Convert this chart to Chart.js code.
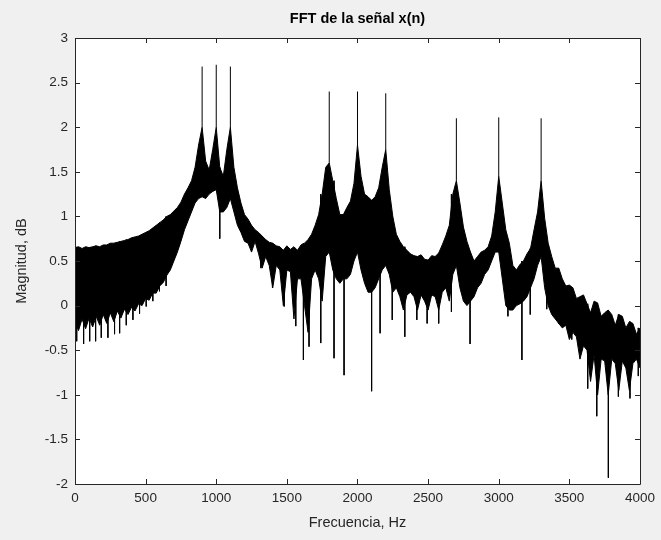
<!DOCTYPE html>
<html>
<head>
<meta charset="utf-8">
<title>FFT de la señal x(n)</title>
<script src="https://cdn.jsdelivr.net/npm/chart.js"></script>
<style>
  html, body { margin: 0; padding: 0; background: #f0f0f0; }
  canvas { display: block; }
</style>
</head>
<body>
<canvas id="grafico" width="661" height="540"></canvas>
<script>
// frecuencias (Hz) donde se leyo la envolvente
const frecuencias = [
    0, 25, 50, 75, 100, 125, 150, 175, 200, 225,
    250, 275, 300, 325, 350, 375, 400, 425, 450, 475,
    500, 525, 550, 575, 600, 625, 650, 675, 700, 725,
    750, 775, 800, 825, 850, 875, 900, 925, 950, 975,
    1000, 1025, 1050, 1075, 1100, 1125, 1150, 1175, 1200, 1225,
    1250, 1275, 1300, 1325, 1350, 1375, 1400, 1425, 1450, 1475,
    1500, 1525, 1550, 1575, 1600, 1625, 1650, 1675, 1700, 1725,
    1750, 1775, 1800, 1825, 1850, 1875, 1900, 1925, 1950, 1975,
    2000, 2025, 2050, 2075, 2100, 2125, 2150, 2175, 2200, 2225,
    2250, 2275, 2300, 2325, 2350, 2375, 2400, 2425, 2450, 2475,
    2500, 2525, 2550, 2575, 2600, 2625, 2650, 2675, 2700, 2725,
    2750, 2775, 2800, 2825, 2850, 2875, 2900, 2925, 2950, 2975,
    3000, 3025, 3050, 3075, 3100, 3125, 3150, 3175, 3200, 3225,
    3250, 3275, 3300, 3325, 3350, 3375, 3400, 3425, 3450, 3475,
    3500, 3525, 3550, 3575, 3600, 3625, 3650, 3675, 3700, 3725,
    3750, 3775, 3800, 3825, 3850, 3875, 3900, 3925, 3950, 3975,
    4000
];

// borde superior de la banda negra (dB)
const envSuperior = [
    0.65, 0.66, 0.64, 0.66, 0.65, 0.66, 0.67, 0.66, 0.68, 0.68,
    0.70, 0.70, 0.71, 0.72, 0.73, 0.74, 0.76, 0.77, 0.78, 0.80,
    0.82, 0.84, 0.87, 0.90, 0.93, 0.96, 1.00, 1.02, 1.06, 1.10,
    1.16, 1.25, 1.32, 1.40, 1.55, 1.80, 2.00, 1.62, 1.52, 1.75,
    2.00, 1.55, 1.45, 1.75, 2.00, 1.55, 1.32, 1.15, 1.02, 0.97,
    0.90, 0.85, 0.82, 0.78, 0.74, 0.71, 0.70, 0.67, 0.66, 0.62,
    0.67, 0.63, 0.66, 0.62, 0.68, 0.70, 0.74, 0.80, 0.90, 1.02,
    1.25, 1.55, 1.60, 1.40, 1.20, 1.02, 1.02, 1.10, 1.17, 1.37,
    1.80, 1.45, 1.25, 1.22, 1.18, 1.22, 1.32, 1.55, 1.75, 1.30,
    1.00, 0.80, 0.72, 0.66, 0.62, 0.58, 0.56, 0.55, 0.57, 0.52,
    0.51, 0.56, 0.55, 0.59, 0.68, 0.78, 0.90, 1.25, 1.40, 1.15,
    0.88, 0.72, 0.60, 0.50, 0.55, 0.60, 0.62, 0.66, 0.78, 1.05,
    1.45, 1.15, 0.85, 0.70, 0.45, 0.40, 0.46, 0.50, 0.58, 0.64,
    0.85, 1.05, 1.40, 0.98, 0.70, 0.55, 0.42, 0.42, 0.30, 0.22,
    0.23, 0.20, 0.08, 0.10, 0.12, 0.02, -0.08, 0.05, 0.03, -0.12,
    -0.08, -0.05, -0.10, -0.22, -0.10, -0.12, -0.25, -0.18, -0.20, -0.32,
    -0.25
];

// borde inferior de la banda negra (dB)
const envInferior = [
    -0.18, -0.28, -0.15, -0.26, -0.14, -0.24, -0.12, -0.22, -0.10, -0.20,
    -0.08, -0.18, -0.06, -0.14, -0.04, -0.10, -0.02, -0.06, 0.02, 0.00,
    0.08, 0.06, 0.14, 0.14, 0.22, 0.26, 0.34, 0.40, 0.50, 0.60,
    0.72, 0.85, 0.95, 1.05, 1.15, 1.20, 1.22, 1.20, 1.25, 1.28,
    1.30, 1.05, 1.05, 1.10, 1.20, 1.05, 0.90, 0.82, 0.72, 0.70,
    0.60, 0.72, 0.58, 0.42, 0.55, 0.45, 0.20, 0.45, 0.40, 0.00,
    0.40, 0.38, -0.15, 0.30, 0.30, 0.00, -0.30, 0.30, 0.40, 0.30,
    0.05, 0.55, 0.60, 0.40, 0.30, 0.25, 0.30, 0.30, 0.35, 0.50,
    0.60, 0.40, 0.25, 0.15, 0.15, 0.20, 0.30, 0.40, 0.45, 0.35,
    0.15, 0.20, 0.10, -0.05, 0.12, 0.15, 0.10, -0.05, 0.12, 0.05,
    -0.05, 0.12, 0.10, -0.05, 0.15, 0.20, 0.05, 0.35, 0.45, 0.20,
    0.05, 0.00, 0.05, 0.10, 0.20, 0.25, 0.35, 0.40, 0.50, 0.60,
    0.60, 0.30, 0.00, -0.05, -0.05, 0.00, 0.02, 0.05, 0.10, 0.20,
    0.30, 0.45, 0.55, 0.20, 0.00, -0.10, -0.15, -0.20, -0.25, -0.22,
    -0.38, -0.30, -0.35, -0.60, -0.45, -0.50, -0.85, -0.55, -1.00, -0.60,
    -0.62, -1.00, -0.60, -0.65, -0.95, -0.62, -0.70, -0.95, -0.65, -0.60,
    -0.70
];

// picos finos (tonos)
const picosFrec = [900, 1000, 1100, 1800, 2000, 2200, 2700, 3000, 3300];
const picosMag  = [2.68, 2.70, 2.68, 2.40, 2.40, 2.38, 2.10, 2.11, 2.10];

// caidas finas hacia abajo
const caidasFrec = [
    12, 61, 104, 146, 186, 233, 280, 316, 363, 410, 457, 504, 551, 598, 645,
    1025, 1316, 1398, 1481, 1563, 1617, 1657, 1740, 1834, 1905,
    2100, 2160, 2246, 2335, 2420, 2493, 2575, 2665, 2797,
    3065, 3164, 3223, 3340, 3423, 3517, 3630, 3694, 3776, 3847, 3929, 3988
];
const caidasMag = [
    -0.40, -0.43, -0.40, -0.40, -0.36, -0.36, -0.32, -0.31, -0.22, -0.16, -0.09, -0.01, 0.05, 0.16, 0.22,
    0.75, 0.42, 0.20, -0.01, -0.23, -0.61, -0.46, -0.42, -0.59, -0.78,
    -0.96, -0.31, -0.16, -0.35, -0.16, -0.20, -0.20, -0.07, -0.43,
    -0.12, -0.61, -0.10, -0.04, -0.20, -0.38, -0.93, -1.24, -1.93, -1.02, -1.04, -0.79
];

const ticksX = [0, 500, 1000, 1500, 2000, 2500, 3000, 3500, 4000];

function indiceCercano(f) {
    let mejor = 0;
    frecuencias.forEach((v, i) => {
        if (Math.abs(v - f) < Math.abs(frecuencias[mejor] - f)) mejor = i;
    });
    return mejor;
}

const puntosSup = frecuencias.map((f, i) => ({ x: f, y: envSuperior[i] }));
const puntosInf = frecuencias.map((f, i) => ({ x: f, y: envInferior[i] }));

// segmentos verticales: pico desde la banda hasta su valor, caidas igual
const puntosEsp = [];
picosFrec.forEach((f, i) => {
    puntosEsp.push({ x: f, y: envSuperior[indiceCercano(f)] });
    puntosEsp.push({ x: f, y: picosMag[i] });
    puntosEsp.push({ x: f, y: null });
});
caidasFrec.forEach((f, i) => {
    puntosEsp.push({ x: f, y: envSuperior[indiceCercano(f)] });
    puntosEsp.push({ x: f, y: caidasMag[i] });
    puntosEsp.push({ x: f, y: null });
});

const colorEjes = "#262626";

// fondo gris, area blanca, caja y marcas hacia dentro (estilo matlab)
const estiloMatlab = {
    id: "estiloMatlab",
    beforeDraw(chart) {
        const { ctx, chartArea: a } = chart;
        ctx.save();
        ctx.fillStyle = "#f0f0f0";
        ctx.fillRect(0, 0, chart.width, chart.height);
        ctx.fillStyle = "#ffffff";
        ctx.fillRect(a.left, a.top, a.right - a.left, a.bottom - a.top);
        ctx.restore();
    },
    afterDraw(chart) {
        const { ctx, chartArea: a } = chart;
        const sx = chart.scales.x, sy = chart.scales.y;
        const L = 5;
        ctx.save();
        ctx.strokeStyle = colorEjes;
        ctx.lineWidth = 1;
        ctx.beginPath();
        ctx.rect(Math.round(a.left) + 0.5, Math.round(a.top) + 0.5,
                 Math.round(a.right - a.left), Math.round(a.bottom - a.top));
        sx.ticks.forEach(t => {
            const px = Math.round(sx.getPixelForValue(t.value)) + 0.5;
            ctx.moveTo(px, a.bottom); ctx.lineTo(px, a.bottom - L);
            ctx.moveTo(px, a.top); ctx.lineTo(px, a.top + L);
        });
        sy.ticks.forEach(t => {
            const py = Math.round(sy.getPixelForValue(t.value)) + 0.5;
            ctx.moveTo(a.left, py); ctx.lineTo(a.left + L, py);
            ctx.moveTo(a.right, py); ctx.lineTo(a.right - L, py);
        });
        ctx.stroke();
        ctx.restore();
    }
};

const fuente = "'Liberation Sans', Arial, Helvetica, sans-serif";

new Chart(document.getElementById("grafico").getContext("2d"), {
    type: "line",
    data: {
        datasets: [
            {
                data: puntosSup,
                borderColor: "#000000",
                backgroundColor: "#000000",
                borderWidth: 1,
                pointRadius: 0,
                tension: 0,
                fill: "+1"
            },
            {
                data: puntosInf,
                borderColor: "#000000",
                borderWidth: 1,
                pointRadius: 0,
                tension: 0,
                fill: false
            },
            {
                data: puntosEsp,
                borderColor: "#000000",
                borderWidth: 1,
                pointRadius: 0,
                spanGaps: false,
                fill: false
            }
        ]
    },
    options: {
        responsive: false,
        animation: false,
        events: [],
        layout: { padding: { left: 0, right: 19, top: 0, bottom: 0 } },
        plugins: {
            legend: { display: false },
            tooltip: { enabled: false },
            title: {
                display: true,
                text: "FFT de la señal x(n)",
                fullSize: false,
                color: "#000000",
                font: { family: fuente, size: 14.5, weight: "bold" },
                padding: { top: 10, bottom: 10.6 }
            }
        },
        scales: {
            x: {
                type: "linear",
                min: 0,
                max: 4000,
                afterBuildTicks: s => { s.ticks = ticksX.map(v => ({ value: v })); },
                afterFit: s => { s.height = 56; },
                grid: { display: false, drawTicks: false },
                border: { display: false },
                ticks: {
                    color: colorEjes,
                    padding: 6,
                    maxRotation: 0,
                    font: { family: fuente, size: 13.5 },
                    callback: v => String(v)
                },
                title: {
                    display: true,
                    text: "Frecuencia, Hz",
                    color: colorEjes,
                    font: { family: fuente, size: 14.5 },
                    padding: { top: 0, bottom: 8.5 }
                }
            },
            y: {
                min: -2,
                max: 3,
                afterFit: s => { s.width = 75; },
                grid: { display: false, drawTicks: false },
                border: { display: false },
                ticks: {
                    stepSize: 0.5,
                    color: colorEjes,
                    padding: 7,
                    font: { family: fuente, size: 13.5 },
                    callback: v => String(v)
                },
                title: {
                    display: true,
                    text: "Magnitud, dB",
                    color: colorEjes,
                    font: { family: fuente, size: 14.5 },
                    padding: { top: 13.3, bottom: 0 }
                }
            }
        }
    },
    plugins: [estiloMatlab]
});
</script>
</body>
</html>
